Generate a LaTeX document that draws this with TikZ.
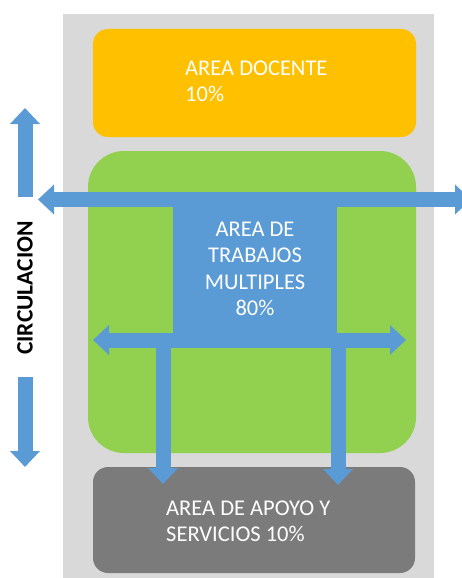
\documentclass[tikz,border=0pt]{standalone}
\usepackage{fontspec}
\setmainfont{Carlito}
\usetikzlibrary{arrows.meta}
\definecolor{bggray}{HTML}{D9D9D9}
\definecolor{docorange}{HTML}{FFC000}
\definecolor{mgreen}{HTML}{92D050}
\definecolor{apoyogray}{HTML}{7B7B7B}
\definecolor{cblue}{HTML}{5B9BD5}
\tikzset{
  areabox/.style={inner sep=0pt, draw=none},
  boxtext/.style={text=white, font=\fontsize{22.5}{26.3}\selectfont, inner sep=0pt},
  flowarrow/.style={draw=cblue, line width=15pt, -{Triangle[width=29pt,length=16pt]}},
  flowarrowboth/.style={draw=cblue, line width=15pt, {Triangle[width=29pt,length=16pt]}-{Triangle[width=29pt,length=16pt]}}
}
\begin{document}
\begin{tikzpicture}[x=1pt,y=-1pt]
\useasboundingbox (0,0) rectangle (462,578);
\clip (0,0) rectangle (462,578);
\fill[bggray] (63,14) rectangle (434,578);
\node[areabox, fill=docorange, rounded corners=15pt, minimum width=323pt, minimum height=108pt] (docente) at (254.5,83) {};
\node[areabox, fill=mgreen, rounded corners=36pt, minimum width=328pt, minimum height=302pt] (multi) at (252,302) {};
\node[areabox, fill=apoyogray, rounded corners=15pt, minimum width=322pt, minimum height=106pt] (apoyo) at (254,520) {};
\node[areabox, fill=cblue, minimum width=164pt, minimum height=148pt] (trabajos) at (255,266) {};
% connectors
\coordinate (tl) at (38,199.5);
\coordinate (tr) at (471,199.5);
\coordinate (ml) at (93,340);
\coordinate (mr) at (406,340);
\coordinate (da1) at (163,340);
\coordinate (da2) at (163,484);
\coordinate (db1) at (338,340);
\coordinate (db2) at (338,485);
\coordinate (cu1) at (25,197);
\coordinate (cu2) at (25,108);
\coordinate (cd1) at (25,377);
\coordinate (cd2) at (25,467);
\draw[flowarrowboth] (tl) -- (tr);
\draw[flowarrowboth] (ml) -- (mr);
\draw[flowarrow] (da1) -- (da2);
\draw[flowarrow] (db1) -- (db2);
\draw[flowarrow] (cu1) -- (cu2);
\draw[flowarrow] (cd1) -- (cd2);
% texts
\node[boxtext, anchor=west, align=left] (tdoc) at (185,81) {AREA DOCENTE\\10\%};
\node[boxtext, align=center] (ttrab) at (255,269) {AREA DE\\TRABAJOS\\MULTIPLES\\80\%};
\node[boxtext, anchor=west, align=left] (tapo) at (166,521) {AREA DE APOYO Y\\SERVICIOS 10\%};
\node[rotate=90, font=\fontsize{23.5}{28}\selectfont\bfseries, inner sep=0pt] (circ) at (25,288) {CIRCULACION};
\end{tikzpicture}
\end{document}
